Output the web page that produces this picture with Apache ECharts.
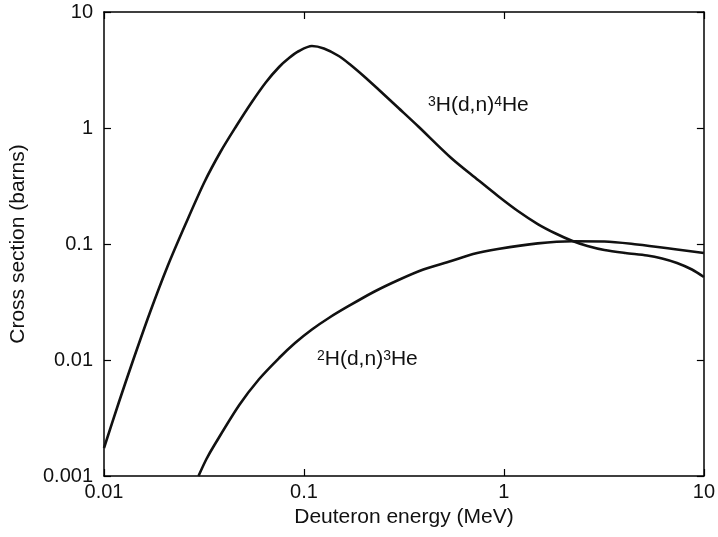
<!DOCTYPE html>
<html>
<head>
<meta charset="utf-8">
<script src="https://cdn.jsdelivr.net/npm/echarts@6/dist/echarts.min.js"></script>
<style>html,body{margin:0;padding:0;background:#fff}#c{width:718px;height:537px}</style>
</head>
<body>
<div id="c"></div>
<script>
// D-T reaction: 3H(d,n)4He
const dtEnergy = [0.01, 0.01188, 0.01394, 0.01694, 0.02082, 0.02559, 0.0318, 0.03821, 0.04589, 0.05448, 0.0647, 0.0751, 0.08421, 0.09443, 0.1096, 0.1258, 0.1493, 0.1713, 0.1988, 0.236, 0.297, 0.3733, 0.5448, 0.7423, 0.9335, 1.174, 1.476, 1.814, 2.204, 2.617, 3.18, 4.046, 5.204, 6.18, 7.34, 8.715, 10];
const dtSigma  = [0.001743, 0.004344, 0.009804, 0.02542, 0.06461, 0.1487, 0.3424, 0.6211, 1.04, 1.643, 2.493, 3.357, 4.012, 4.611, 5.092, 4.845, 4.175, 3.493, 2.808, 2.147, 1.487, 1.03, 0.5513, 0.3562, 0.2594, 0.1925, 0.1487, 0.1232, 0.1061, 0.09612, 0.08878, 0.08364, 0.0796, 0.07499, 0.06859, 0.06028, 0.05194];
// D-D reaction: 2H(d,n)3He
const ddEnergy = [0.02969, 0.03254, 0.03566, 0.04748, 0.05972, 0.0751, 0.0902, 0.1096, 0.1331, 0.1675, 0.223, 0.297, 0.3954, 0.5448, 0.701, 0.9335, 1.476, 2.204, 3.18, 4.64, 7.34, 10];
const ddSigma  = [0.001, 0.001401, 0.00185, 0.004093, 0.006858, 0.0104, 0.01401, 0.01832, 0.02302, 0.02921, 0.03857, 0.04894, 0.06028, 0.07136, 0.082, 0.09055, 0.1012, 0.1055, 0.1051, 0.099, 0.0897, 0.08364];

const xTickLabels = ['0.01', '0.1', '1', '10'];
const yTickLabels = ['0.001', '0.01', '0.1', '1', '10'];
const xName = 'Deuteron energy (MeV)';
const yName = 'Cross section (barns)';

const FONT = '"Liberation Sans", Arial, Helvetica, sans-serif';
const xFmt = v => xTickLabels[Math.round(Math.log10(v)) + 2] || '';
const yFmt = v => yTickLabels[Math.round(Math.log10(v)) + 3] || '';

const axisLine = { show: true, lineStyle: { color: '#000', width: 1.5 } };
const tick = { show: true, inside: true, length: 7, lineStyle: { color: '#000', width: 1.2 } };

const chart = echarts.init(document.getElementById('c'));
chart.setOption({
  animation: false,
  backgroundColor: '#fff',
  grid: { left: 104, right: 11, top: 12, bottom: 61, containLabel: false },
  xAxis: [
    { type: 'log', logBase: 10, min: 0.01, max: 10, position: 'bottom',
      name: xName, nameLocation: 'middle', nameGap: 26,
      nameTextStyle: { fontFamily: FONT, fontSize: 21, color: '#111' },
      axisLine, axisTick: tick, splitLine: { show: false }, minorTick: { show: false },
      axisLabel: { formatter: xFmt, fontFamily: FONT, fontSize: 20, color: '#111', margin: 6 } },
    { type: 'log', logBase: 10, min: 0.01, max: 10, position: 'top',
      axisLine, axisTick: tick, splitLine: { show: false }, axisLabel: { show: false } }
  ],
  yAxis: [
    { type: 'log', logBase: 10, min: 0.001, max: 10, position: 'left',
      name: yName, nameLocation: 'middle', nameGap: 75,
      nameTextStyle: { fontFamily: FONT, fontSize: 21, color: '#111' },
      axisLine, axisTick: tick, splitLine: { show: false },
      axisLabel: { formatter: yFmt, fontFamily: FONT, fontSize: 20, color: '#111', margin: 11 } },
    { type: 'log', logBase: 10, min: 0.001, max: 10, position: 'right',
      axisLine, axisTick: tick, splitLine: { show: false }, axisLabel: { show: false } }
  ],
  series: [
    { type: 'line', name: 'DT', smooth: 0.3, showSymbol: false, symbol: 'none',
      data: dtEnergy.map((e, i) => [e, dtSigma[i]]),
      lineStyle: { color: '#111', width: 2.6 } },
    { type: 'line', name: 'DD', smooth: 0.3, showSymbol: false, symbol: 'none',
      data: ddEnergy.map((e, i) => [e, ddSigma[i]]),
      lineStyle: { color: '#111', width: 2.6 } }
  ],
  graphic: [
    { type: 'text', left: 428, top: 95, style: {
        text: '{s|3}{m|H(d,n)}{s|4}{m|He}', fontFamily: FONT, fill: '#111',
        rich: { s: { fontSize: 14, verticalAlign: 'top', fontFamily: FONT, fill: '#111' },
                m: { fontSize: 21, fontFamily: FONT, fill: '#111' } } } },
    { type: 'text', left: 317, top: 349, style: {
        text: '{s|2}{m|H(d,n)}{s|3}{m|He}', fontFamily: FONT, fill: '#111',
        rich: { s: { fontSize: 14, verticalAlign: 'top', fontFamily: FONT, fill: '#111' },
                m: { fontSize: 21, fontFamily: FONT, fill: '#111' } } } }
  ]
});
</script>
</body>
</html>
